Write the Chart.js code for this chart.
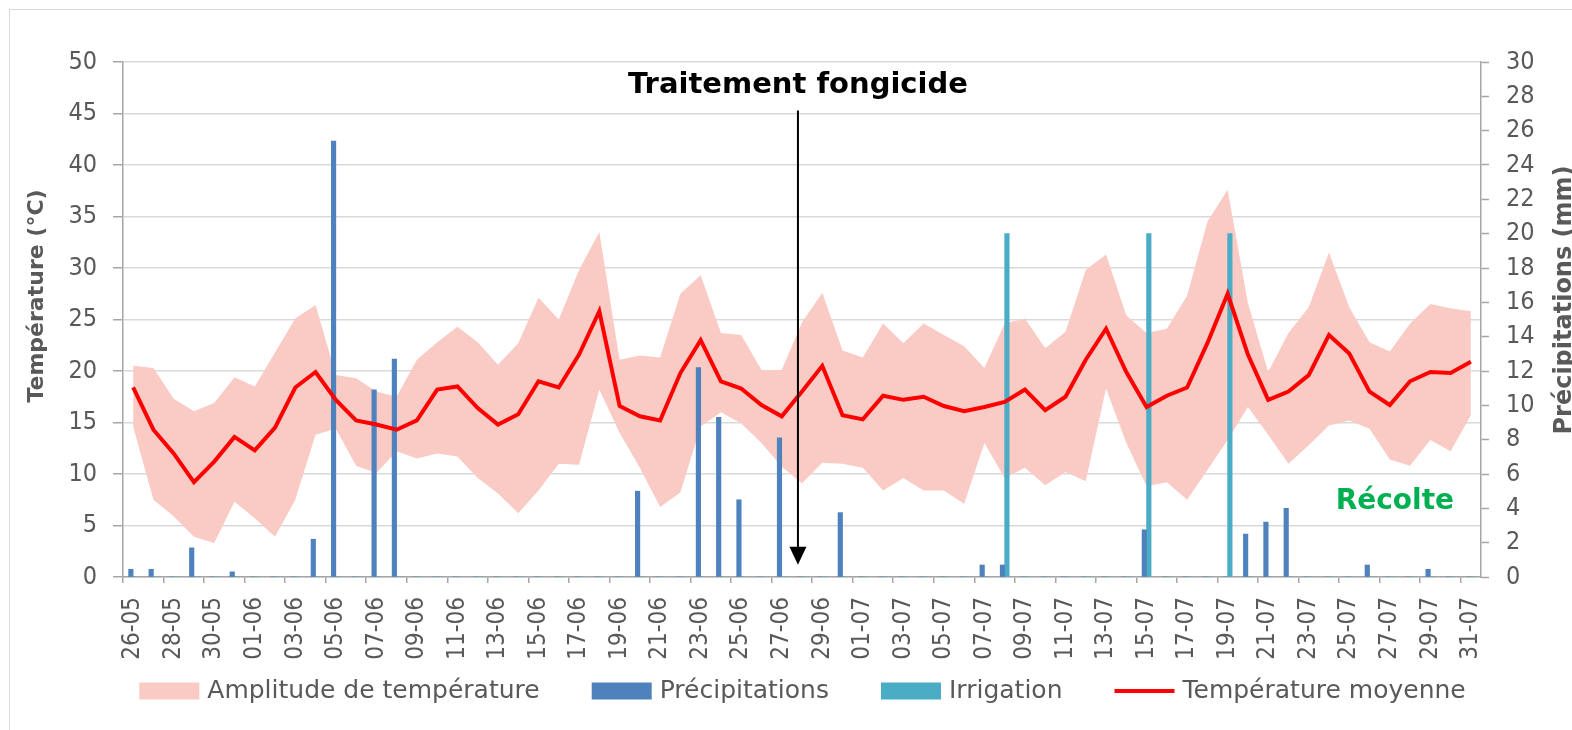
<!DOCTYPE html>
<html lang="fr">
<head>
<meta charset="utf-8">
<title>Températures, précipitations et irrigation</title>
<script src="https://cdn.jsdelivr.net/npm/chart.js@4.4.1/dist/chart.umd.min.js"></script>
<style>
  html, body { margin: 0; padding: 0; background: #fff; }
  #wrap { position: relative; width: 1572px; height: 730px; }
</style>
</head>
<body>
<div id="wrap"><canvas id="graphiqueMeteo"></canvas></div>
<script>
// jours (jj-mm)
var dates = [
  "26-05", "27-05", "28-05", "29-05", "30-05", "31-05",
  "01-06", "02-06", "03-06", "04-06", "05-06", "06-06", "07-06", "08-06", "09-06", "10-06",
  "11-06", "12-06", "13-06", "14-06", "15-06", "16-06", "17-06", "18-06", "19-06", "20-06",
  "21-06", "22-06", "23-06", "24-06", "25-06", "26-06", "27-06", "28-06", "29-06", "30-06",
  "01-07", "02-07", "03-07", "04-07", "05-07", "06-07", "07-07", "08-07", "09-07", "10-07",
  "11-07", "12-07", "13-07", "14-07", "15-07", "16-07", "17-07", "18-07", "19-07", "20-07",
  "21-07", "22-07", "23-07", "24-07", "25-07", "26-07", "27-07", "28-07", "29-07", "30-07", "31-07"
];

// températures (°C)
var tempMax = [
  20.5, 20.3, 17.3, 16.1, 16.9, 19.4, 18.5, 21.8, 25.1, 26.4,
  19.6, 19.3, 18.0, 17.5, 21.1, 22.8, 24.3, 22.8, 20.6, 22.7,
  27.1, 25.0, 29.8, 33.5, 21.1, 21.5, 21.3, 27.5, 29.3, 23.7,
  23.5, 20.1, 20.1, 24.7, 27.6, 22.0, 21.3, 24.6, 22.7, 24.6,
  23.5, 22.4, 20.3, 24.6, 25.1, 22.2, 23.8, 29.8, 31.3, 25.4,
  23.7, 24.1, 27.3, 34.5, 37.6, 26.6, 19.9, 23.7, 26.2, 31.5,
  26.2, 22.8, 21.9, 24.6, 26.5, 26.1, 25.8
];
var tempMin = [
  14.6, 7.5, 5.9, 3.9, 3.3, 7.3, 5.7, 3.9, 7.5, 13.8,
  14.4, 10.8, 10.1, 12.2, 11.5, 12.0, 11.7, 9.6, 8.1, 6.2,
  8.4, 11.0, 10.9, 18.2, 14.0, 10.6, 6.8, 8.2, 14.6, 16.0,
  14.9, 13.0, 10.7, 9.1, 11.1, 11.0, 10.6, 8.4, 9.6, 8.4,
  8.4, 7.1, 13.0, 9.6, 10.6, 8.9, 10.2, 9.3, 18.3, 13.0,
  8.8, 9.2, 7.5, 10.4, 13.3, 16.5, 13.8, 11.0, 12.8, 14.7,
  15.2, 14.4, 11.4, 10.8, 13.3, 12.2, 15.7
];
var tempMoy = [
  18.4, 14.3, 12.0, 9.2, 11.2, 13.6, 12.3, 14.5, 18.4, 19.9,
  17.2, 15.2, 14.8, 14.3, 15.2, 18.2, 18.5, 16.4, 14.8, 15.8,
  19.0, 18.4, 21.6, 25.8, 16.6, 15.6, 15.2, 19.8, 23.0, 19.0,
  18.3, 16.7, 15.6, 18.0, 20.5, 15.7, 15.3, 17.6, 17.2, 17.5,
  16.6, 16.1, 16.5, 17.0, 18.2, 16.2, 17.5, 21.1, 24.1, 19.9,
  16.5, 17.6, 18.4, 22.7, 27.5, 21.6, 17.2, 18.0, 19.6, 23.5,
  21.7, 18.0, 16.7, 19.0, 19.9, 19.8, 20.9
];

// eau (mm)
var precipitations = [
  0.45, 0.45, 0, 1.7, 0, 0.3, 0, 0, 0, 2.2,
  25.4, 0, 10.9, 12.7, 0, 0, 0, 0, 0, 0,
  0, 0, 0, 0, 0, 5.0, 0, 0, 12.2, 9.3,
  4.5, 0, 8.1, 0, 0, 3.75, 0, 0, 0, 0,
  0, 0, 0.7, 0.7, 0, 0, 0, 0, 0, 0,
  2.75, 0, 0, 0, 0, 2.5, 3.2, 4.0, 0, 0,
  0, 0.7, 0, 0, 0.45, 0, 0
];
var irrigation = [
  0, 0, 0, 0, 0, 0, 0, 0, 0, 0,
  0, 0, 0, 0, 0, 0, 0, 0, 0, 0,
  0, 0, 0, 0, 0, 0, 0, 0, 0, 0,
  0, 0, 0, 0, 0, 0, 0, 0, 0, 0,
  0, 0, 0, 20, 0, 0, 0, 0, 0, 0,
  20, 0, 0, 0, 20, 0, 0, 0, 0, 0,
  0, 0, 0, 0, 0, 0, 0
];

// annotations (position en index de jour / valeur de température)
var traitementJour = 32.8;
var recolteJour = 62.25;

var gris = '#595959';
var grisAxe = '#A6A6A6';
var fontCond = "'DejaVu Sans Condensed', 'DejaVu Sans', sans-serif";

Chart.defaults.font.family = fontCond;
Chart.defaults.color = gris;

// légende dessinée à la main (boîtes + trait), sous l'axe des dates
function dessinerLegende(chart) {
  var ctx = chart.ctx;
  var items = [];
  [0, 1, 2, 3].forEach(function(i) {
    var ds = chart.data.datasets[i];
    var trait = ds.type === 'line' && !ds.fill;
    items.push({ texte: ds.label, couleur: trait ? ds.borderColor : ds.backgroundColor, trait: trait });
  });
  ctx.save();
  ctx.font = "25px 'DejaVu Sans'";
  ctx.textBaseline = 'middle';
  ctx.textAlign = 'left';
  var boite = 60, ecart = 8, espace = 52;
  var total = 0;
  items.forEach(function(it, k) {
    it.w = ctx.measureText(it.texte).width;
    total += boite + ecart + it.w + (k > 0 ? espace : 0);
  });
  var cx = (chart.chartArea.left + chart.chartArea.right) / 2 + 0.5;
  var xx = cx - total / 2;
  var yc = chart.chartArea.bottom + 114;
  items.forEach(function(it) {
    if (it.trait) {
      ctx.strokeStyle = it.couleur;
      ctx.lineWidth = 4;
      ctx.beginPath();
      ctx.moveTo(xx, yc);
      ctx.lineTo(xx + boite, yc);
      ctx.stroke();
    } else {
      ctx.fillStyle = it.couleur;
      ctx.fillRect(xx, yc - 8.5, boite, 17);
    }
    ctx.fillStyle = gris;
    ctx.fillText(it.texte, xx + boite + ecart, yc);
    xx += boite + ecart + it.w + espace;
  });
  ctx.restore();
}

var pluginAnnotations = {
  id: 'annotations',
  beforeDraw: function(chart) {
    var ctx = chart.ctx;
    ctx.save();
    ctx.fillStyle = '#fff';
    ctx.fillRect(0, 0, chart.width, chart.height);
    ctx.restore();
  },
  afterDraw: function(chart) {
    var ctx = chart.ctx;
    var x = chart.scales.x, y = chart.scales.y;
    ctx.save();

    // cadre du graphique
    ctx.strokeStyle = '#D9D9D9';
    ctx.lineWidth = 1;
    ctx.strokeRect(9.5, 9.5, chart.width + 10, chart.height + 10);

    // titres des axes
    ctx.fillStyle = gris;
    ctx.font = "bold 22px 'DejaVu Sans'";
    ctx.textAlign = 'center';
    ctx.textBaseline = 'alphabetic';
    ctx.save();
    ctx.translate(43, 296);
    ctx.rotate(-Math.PI / 2);
    ctx.fillText('Température (°C)', 0, 0);
    ctx.restore();
    ctx.save();
    ctx.font = "bold 24px 'DejaVu Sans'";
    ctx.translate(1571, 300);
    ctx.rotate(-Math.PI / 2);
    ctx.fillText('Précipitations (mm)', 0, 0);
    ctx.restore();

    // flèche traitement
    var ax = x.getPixelForValue(traitementJour);
    var yHaut = y.getPixelForValue(45.3);
    var yPointe = y.getPixelForValue(1.2);
    ctx.strokeStyle = '#000';
    ctx.lineWidth = 2;
    ctx.beginPath();
    ctx.moveTo(ax, yHaut);
    ctx.lineTo(ax, yPointe - 14);
    ctx.stroke();
    ctx.fillStyle = '#000';
    ctx.beginPath();
    ctx.moveTo(ax - 8.5, yPointe - 18);
    ctx.lineTo(ax + 8.5, yPointe - 18);
    ctx.lineTo(ax, yPointe);
    ctx.closePath();
    ctx.fill();

    ctx.font = "bold 29px 'DejaVu Sans'";
    ctx.fillText('Traitement fongicide', ax, y.getPixelForValue(47.0));

    ctx.fillStyle = '#00B050';
    ctx.font = "bold 28px 'DejaVu Sans'";
    ctx.fillText('Récolte', x.getPixelForValue(recolteJour), y.getPixelForValue(6.6));

    ctx.restore();

    dessinerLegende(chart);
  }
};

var ctxMeteo = document.getElementById('graphiqueMeteo').getContext('2d');

var chartMeteo = new Chart(ctxMeteo, {
  data: {
    labels: dates,
    datasets: [{
      type: 'line',
      label: 'Amplitude de température',
      data: tempMax,
      yAxisID: 'y',
      borderWidth: 0,
      borderColor: 'transparent',
      backgroundColor: '#F9CBC4',
      pointRadius: 0,
      tension: 0,
      fill: 4,
      order: 3
    }, {
      type: 'bar',
      label: 'Précipitations',
      data: precipitations,
      yAxisID: 'y1',
      backgroundColor: '#4F81BD',
      borderWidth: 0,
      barThickness: 4.5,
      order: 2
    }, {
      type: 'bar',
      label: 'Irrigation',
      data: irrigation,
      yAxisID: 'y1',
      backgroundColor: '#4BACC6',
      borderWidth: 0,
      barThickness: 4.5,
      order: 2
    }, {
      type: 'line',
      label: 'Température moyenne',
      data: tempMoy,
      yAxisID: 'y',
      borderColor: '#FF0000',
      backgroundColor: '#FF0000',
      borderWidth: 4,
      pointRadius: 0,
      tension: 0,
      fill: false,
      order: 0
    }, {
      type: 'line',
      label: 'Tmin',
      data: tempMin,
      yAxisID: 'y',
      borderWidth: 0,
      borderColor: 'transparent',
      pointRadius: 0,
      tension: 0,
      fill: false,
      order: 3
    }]
  },
  options: {
    responsive: true,
    maintainAspectRatio: false,
    animation: false,
    layout: {
      padding: { top: 62, left: 33, right: 0, bottom: 0 }
    },
    plugins: {
      title: { display: false },
      tooltip: { enabled: false },
      legend: { display: false }
    },
    scales: {
      x: {
        type: 'category',
        offset: true,
        afterFit: function(scale) { scale.height = 153; },
        grid: {
          offset: true,
          drawOnChartArea: false,
          tickLength: 6,
          lineWidth: 1.5,
          color: function(c) { return c.index % 2 === 0 ? grisAxe : 'transparent'; }
        },
        border: { color: grisAxe, width: 1.5 },
        ticks: {
          autoSkip: false,
          minRotation: 90,
          maxRotation: 90,
          padding: 14,
          color: gris,
          font: { size: 24 },
          callback: function(value, index) {
            return index % 2 === 0 ? this.getLabelForValue(value) : '';
          }
        }
      },
      y: {
        position: 'left',
        min: 0,
        max: 50,
        afterFit: function(scale) { scale.width = 90; },
        grid: {
          color: '#D9D9D9',
          lineWidth: 1.5,
          tickLength: 10,
          tickColor: grisAxe,
          tickWidth: 1.5
        },
        border: { color: grisAxe, width: 1.5 },
        ticks: { stepSize: 5, padding: 16, color: gris, font: { size: 25 } }
      },
      y1: {
        position: 'right',
        min: 0,
        max: 30,
        afterFit: function(scale) { scale.width = 91; },
        grid: {
          drawOnChartArea: false,
          tickLength: 8,
          tickColor: grisAxe,
          tickWidth: 1.5
        },
        border: { color: grisAxe, width: 1.5 },
        ticks: { stepSize: 2, padding: 17, color: gris, font: { size: 25 } }
      }
    }
  },
  plugins: [pluginAnnotations]
});
</script>
</body>
</html>
